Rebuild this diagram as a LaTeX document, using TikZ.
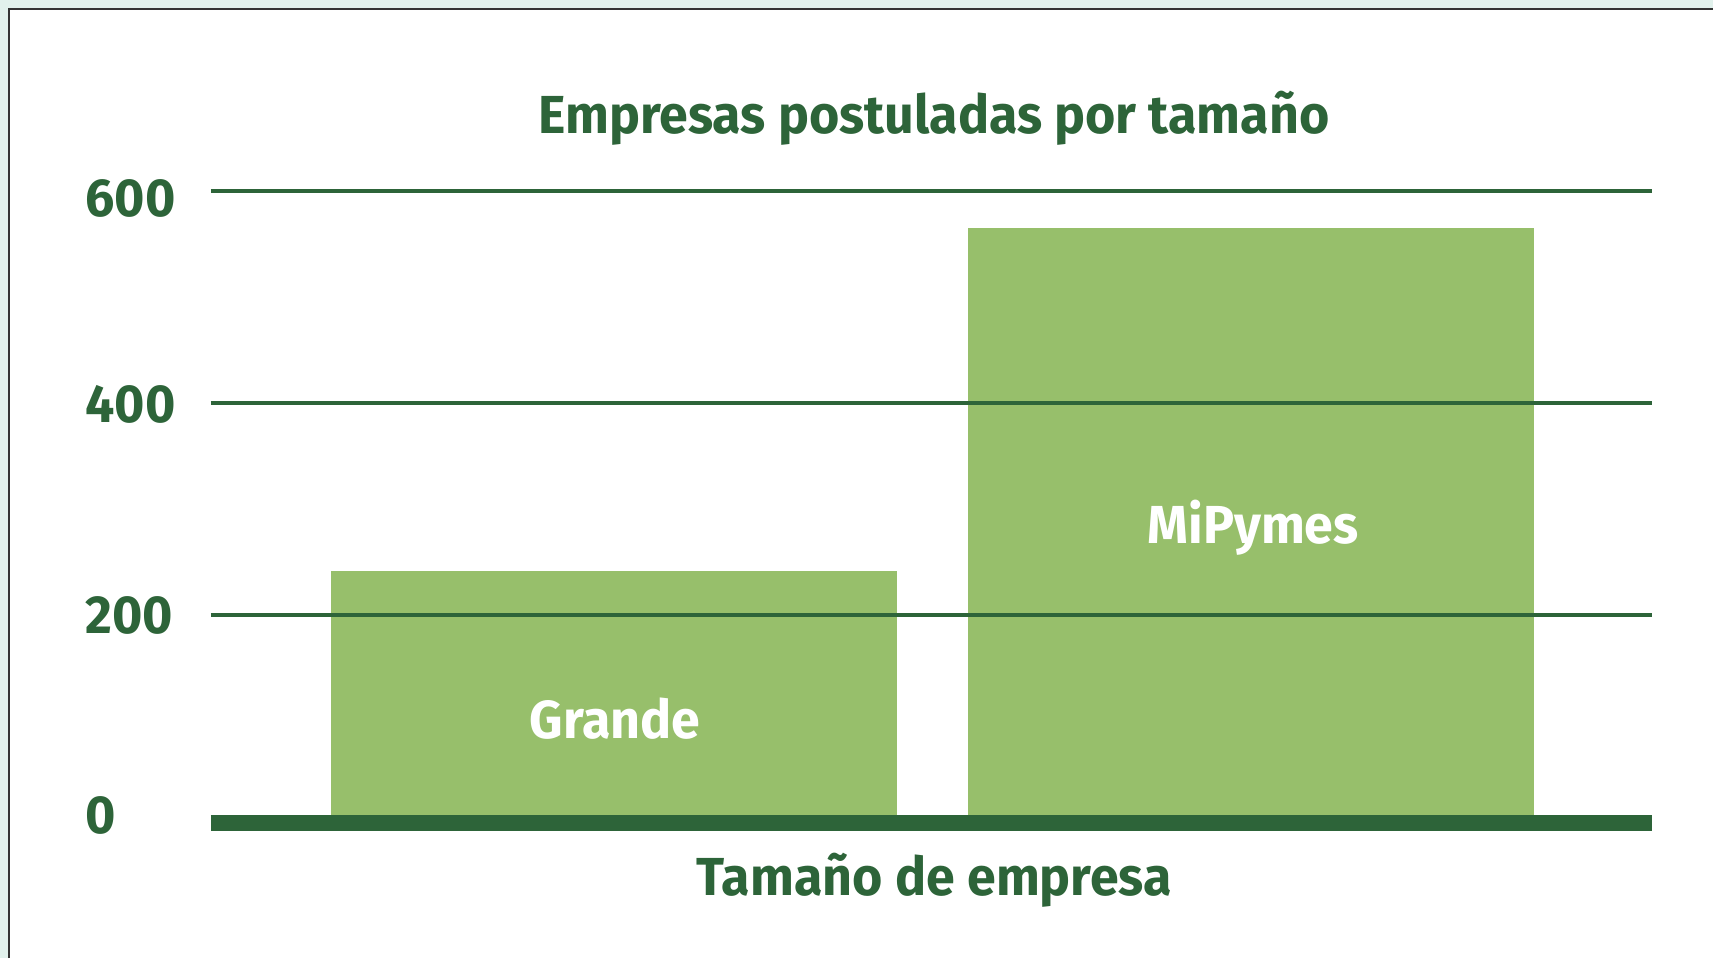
\documentclass[tikz,border=0pt]{standalone}
\usepackage{fontspec}
\setmainfont{Fira Sans}[FakeStretch=0.97]
\definecolor{darkgreen}{HTML}{2D6439}
\definecolor{bargreen}{HTML}{97BF6B}
\definecolor{mint}{HTML}{E1F1EC}
\tikzset{
  gridline/.style={darkgreen,line width=3.5pt},
  ylab/.style={anchor=west,text=darkgreen,font=\fontsize{49}{55}\selectfont\bfseries,inner sep=0pt},
  barlab/.style={text=white,font=\fontsize{49}{55}\selectfont\bfseries,inner sep=0pt},
  heading/.style={text=darkgreen,font=\fontsize{49}{55}\selectfont\bfseries,inner sep=0pt}
}
\begin{document}
\begin{tikzpicture}[x=1pt,y=1pt]
  \fill[mint](0,0)rectangle(1568,877);
  \fill[white](8,0)rectangle(1568,869);
  \draw[black!80,line width=1.5pt](8,0)--(8,869)--(1568,869);
  \node[heading](title) at (855,769){Empresas postuladas por tamaño};
  \begin{scope}[shift={(0,120)},y=0.97pt]
    % bars
    \fill[bargreen](303,0)rectangle(821,242);
    \fill[bargreen](886,0)rectangle(1404,565);
    \foreach \v/\ly in {200/200,400/399,600/593}{
      \draw[gridline](193,\v)--(1512,\v);
      \node[ylab](lab\v) at (78,\ly){\v};
    }
    \node[ylab](lab0) at (78,11){0};
    \draw[darkgreen,line width=15pt](193,4)--(1512,4);
    \node[barlab](grande) at (563,102){Grande};
    \node[barlab](mipymes) at (1147,282){MiPymes};
    \node[heading](xtitle) at (855,-50){Tamaño de empresa};
  \end{scope}
\end{tikzpicture}
\end{document}
